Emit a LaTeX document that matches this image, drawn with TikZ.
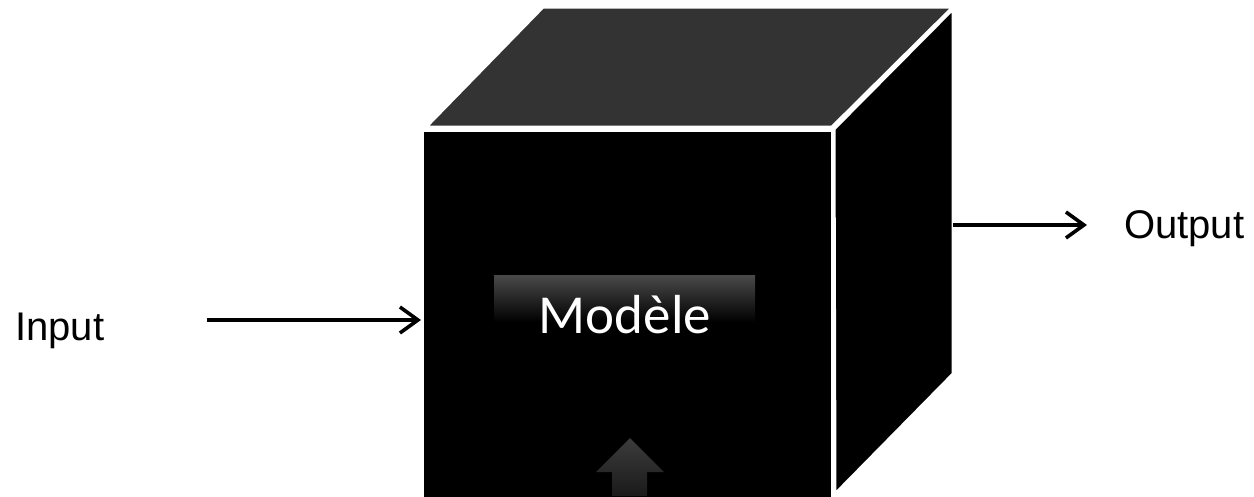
\documentclass[tikz,border=0pt]{standalone}
\usepackage{fontspec}
\usetikzlibrary{arrows.meta}
\newfontfamily\arialf{Liberation Sans}
\newfontfamily\calibf{Carlito}
\definecolor{topgray}{HTML}{333333}
\definecolor{lblgray}{HTML}{4A4A4A}
\definecolor{uptop}{HTML}{3C3C3C}
\definecolor{upbot}{HTML}{1A1A1A}
\begin{document}
\begin{tikzpicture}[x=1pt,y=-1pt,
  face/.style={draw=white,line width=3pt,line join=miter},
  conn/.style={line width=3.6pt,-{Straight Barb[length=18pt,width=26pt,line width=3.6pt]}},
  lbl/.style={font=\arialf\fontsize{40}{44}\selectfont,inner sep=0pt},
  mlbl/.style={font=\calibf\fontsize{55}{60}\selectfont,text=white,inner sep=0pt}]
\useasboundingbox (0,0) rectangle (1254,496);
% cube faces
\path[face,fill=topgray] (426,127) -- (832,127) -- (953,7) -- (543,7) -- cycle;
\path[face,fill=black] (834,129) -- (953,9) -- (953,374) -- (835,494) -- cycle;
\path[face,fill=black] (422,130) rectangle (832,510);
% label bar with gradient
\shade[top color=lblgray,bottom color=black] (494,275) rectangle (755,322);
\node[mlbl,anchor=base] (model) at (625,333) {Modèle};
% up arrow
\shade[top color=uptop,bottom color=upbot] (630,438) -- (664,472) -- (647,472) -- (647,496) -- (612,496) -- (612,472) -- (596,472) -- cycle;
% coordinates
\coordinate (inStart) at (207,320);
\coordinate (frontL) at (421,320);
\coordinate (rightR) at (953,225);
\coordinate (outEnd) at (1087,225);
\node[lbl,anchor=base west] (input) at (15,340) {Input};
\node[lbl,anchor=base west] (output) at (1124,238) {Output};
\draw[conn] (inStart) -- (frontL);
\draw[conn] (rightR) -- (outEnd);
\end{tikzpicture}
\end{document}
